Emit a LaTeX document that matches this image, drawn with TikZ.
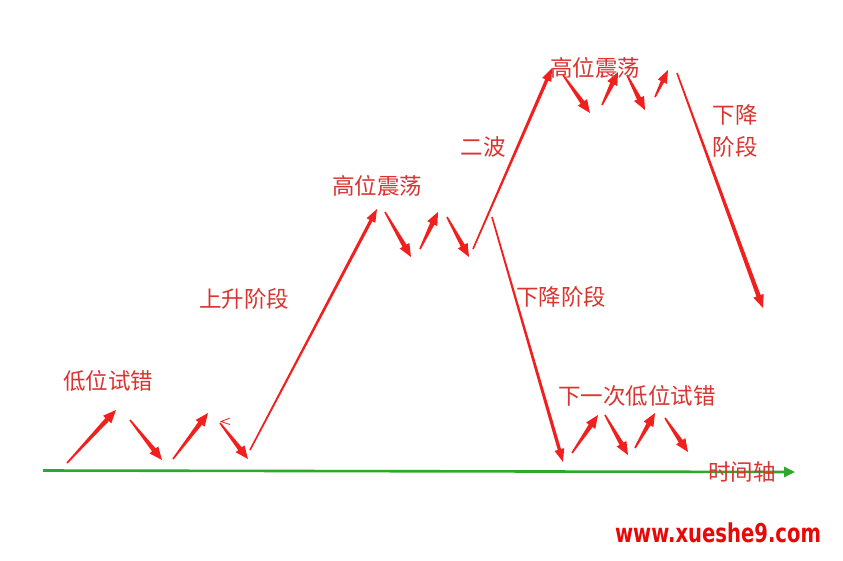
\documentclass[tikz,border=0pt]{standalone}
\usepackage{fontspec}
\newfontfamily\cjk{Noto Sans CJK SC}
\newfontfamily\webfont{DejaVu Sans}
\usetikzlibrary{calc,arrows.meta}

\definecolor{arrowred}{RGB}{240,32,30}
\definecolor{labelred}{RGB}{218,52,48}
\definecolor{axisgreen}{RGB}{44,168,44}
\definecolor{markred}{RGB}{232,8,8}

\tikzset{
  label/.style={text=labelred, font=\cjk\fontsize{22.5}{26}\selectfont, inner sep=0pt},
}

\newcommand{\zarrow}[3][2.3]{%
  \path (#2) coordinate (zt) (#3) coordinate (zh);
  \path ($(zh)!13pt!(zt)$) coordinate (zb);
  \fill[arrowred] ($(zt)!0.8pt!90:(zh)$) -- ($(zb)!#1pt!90:(zh)$) -- ($(zb)!#1pt+3.3pt!90:(zh)$) -- (zh)
    -- ($(zb)!#1pt+3.3pt!-90:(zh)$) -- ($(zb)!#1pt!-90:(zh)$) -- ($(zt)!0.8pt!-90:(zh)$) -- cycle;
}

\begin{document}
\begin{tikzpicture}[x=1pt, y=-1pt]

                    \fill[white] (0,0) rectangle (843,560);
                    \useasboundingbox (0,0) rectangle (843,560);

                    \draw[axisgreen, line width=2.6pt, -{Triangle[length=11pt, width=10pt]}] (43,470.5) -- (795,472);

                    \zarrow{67,463}{116,410}
                    \zarrow{130,420}{162,460}
                    \zarrow{173,459}{208,413}
                    \draw[arrowred, line width=0.8pt] (230,418) -- (221,421.5) -- (230,424.5);
                    \zarrow{220,423}{248,459}
                    \zarrow[1.6]{250,450}{377,209}

                    \zarrow{385,212}{411,257}
                    \zarrow{420,249}{438,212}
                    \zarrow{447,217}{469,257}
                    \zarrow[1.7]{473,249}{552,68}
                    \zarrow[1.7]{492,217}{563,462}

                    \zarrow{563,75}{590,113}
                    \zarrow{602,105}{618,72}
                    \zarrow{627,75}{645,110}
                    \zarrow[1.8]{655,97}{668,70}
                    \zarrow[2.2]{677,73}{763,308}

                    \zarrow{572,453}{598,415}
                    \zarrow{605,415}{628,455}
                    \zarrow{635,448}{655,413}
                    \zarrow{665,418}{688,452}

                    \node[label] (lowtry) at (108,381) {低位试错};
                    \node[label] (rise) at (244,299) {上升阶段};
                    \node[label] (highmid) at (377,186) {高位震荡};
                    \node[label] (second) at (483,147) {二波};
                    \node[label] (hightop) at (595,68) {高位震荡};
                    \node[label] (falltop) at (735,115) {下降};
                    \node[label] (fallstage) at (735,147) {阶段};
                    \node[label] (fallmid) at (561,297) {下降阶段};
                    \node[label] (lowtwo) at (637,396) {下一次低位试错};
                    \node[label] (timeaxis) at (742,472) {时间轴};

                    \node[text=markred, font=\webfont\bfseries\fontsize{20}{22}\selectfont, inner sep=0pt, xscale=0.98, yscale=1.3] (site) at (718,533) {www.xueshe9.com};
                \end{tikzpicture}
\end{document}
